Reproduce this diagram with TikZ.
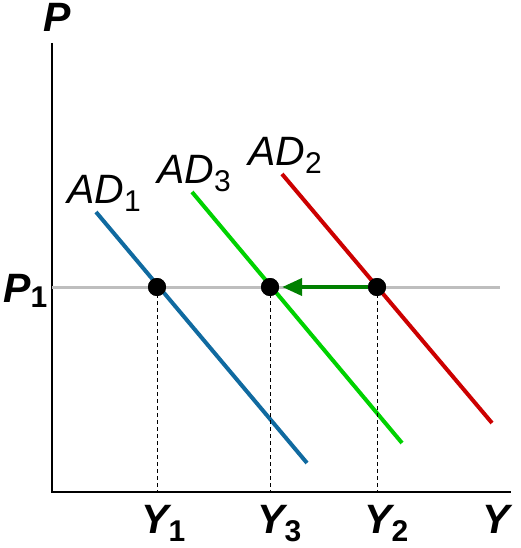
\documentclass[tikz,border=0pt]{standalone}
\usepackage{fontspec}
\setmainfont{Liberation Sans}
\usetikzlibrary{arrows.meta}
\definecolor{adblue}{RGB}{16,106,160}
\definecolor{adgreen}{RGB}{0,210,0}
\definecolor{adred}{RGB}{204,0,0}
\definecolor{shiftgreen}{RGB}{0,128,0}
\definecolor{pgray}{RGB}{190,190,190}
\newcommand{\bigf}{\fontsize{41}{41}\selectfont}
\newcommand{\subf}{\fontsize{30}{30}\selectfont\upshape}
\newcommand{\lowsub}[1]{\raisebox{-8pt}[0pt][0pt]{\subf #1}}
\tikzset{
  axisline/.style={line width=1.5pt,black},
  curve/.style={line width=4pt},
  dot/.style={circle,fill=black,inner sep=0pt,minimum size=18pt},
  guide/.style={line width=1pt,dash pattern=on 4pt off 3pt},
  lab/.style={anchor=base west,inner sep=0pt,font=\bigf\itshape},
  blab/.style={anchor=base west,inner sep=0pt,font=\bigf\bfseries\itshape},
}
\begin{document}
\begin{tikzpicture}[x=1pt,y=-1pt]
\useasboundingbox (0,0) rectangle (520,548);
\coordinate (o) at (52,492);
\coordinate (ytop) at (52,43);
\coordinate (xend) at (511,492);
\draw[axisline] (ytop) -- (o) -- (xend);
% price line
\coordinate (pl) at (52,287);
\coordinate (pr) at (500,287);
\draw[pgray,line width=3pt] (pl) -- (pr);
% AD curves
\coordinate (b1) at (96,212); \coordinate (b2) at (307,463);
\coordinate (g1) at (192,192); \coordinate (g2) at (402,443);
\coordinate (r1) at (282,174); \coordinate (r2) at (492,423);
\draw[curve,adblue] (b1) -- (b2);
\draw[curve,adgreen] (g1) -- (g2);
\draw[curve,adred] (r1) -- (r2);
% dots
\node[dot] (d1) at (157,287) {};
\node[dot] (d3) at (270,287) {};
\node[dot] (d2) at (377,287) {};
\draw[guide] (d1.center) -- (d1.center |- o);
\draw[guide] (d3.center) -- (d3.center |- o);
\draw[guide] (d2.center) -- (d2.center |- o);
\node[dot] at (d1) {};
\node[dot] at (d3) {};
\node[dot] at (d2) {};
\draw[shiftgreen,line width=4pt,-{Triangle[length=20pt,width=17pt]}] (d2.west) -- ([xshift=3pt]d3.east);
% labels
\node[lab] (lad1) at (67,203) {AD\lowsub{1}};
\node[lab] (lad3) at (157,183) {AD\lowsub{3}};
\node[lab] (lad2) at (248,165) {AD\lowsub{2}};
\node[blab] (lp) at (43,32) {P};
\node[blab] (lp1) at (3,302) {P\raisebox{-5pt}{\subf\bfseries 1}};
\node[blab] (ly1) at (141,533) {Y\lowsub{\bfseries 1}};
\node[blab] (ly3) at (257,533) {Y\lowsub{\bfseries 3}};
\node[blab] (ly2) at (364,533) {Y\lowsub{\bfseries 2}};
\node[blab] (ly) at (482,533) {Y};
\end{tikzpicture}
\end{document}
